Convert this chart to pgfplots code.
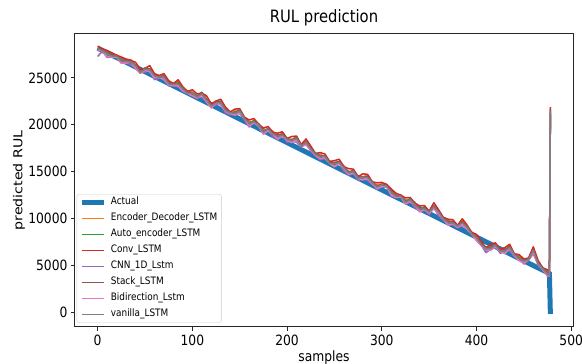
\documentclass[border=0pt]{standalone}
\usepackage{pgfplots}
\pgfplotsset{compat=1.18}
\usepackage{pgfplotstable}
\usepackage{graphicx}
\usepackage{fontspec}
\setmainfont{DejaVu Sans}

\definecolor{tabblue}{HTML}{1F77B4}
\definecolor{taborange}{HTML}{FF7F0E}
\definecolor{tabgreen}{HTML}{2CA02C}
\definecolor{tabred}{HTML}{D62728}
\definecolor{tabpurple}{HTML}{9467BD}
\definecolor{tabbrown}{HTML}{8C564B}
\definecolor{tabpink}{HTML}{E377C2}
\definecolor{tabgray}{HTML}{7F7F7F}

% sample, actual RUL, and the predictions of each model
\pgfplotstableread{
x   act   ed    ae    conv  cnn   stack bidir van
0   28200 28250 28100 28400 27300 28200 27950 28150
5   27948 27998 28048 28098 27848 27948 27898 27898
10  27695 27795 27445 27945 27195 27745 27295 27595
15  27442 27342 27442 27692 27242 27442 27242 27342
20  27190 27490 27290 27440 27240 27390 27240 27340
25  26938 26988 26938 27238 26588 26838 26588 26788
30  26685 26785 26635 27035 26635 26935 26585 26785
35  26432 26982 26782 26882 26382 26782 26682 26682
40  26180 26230 26280 26680 26130 26380 26030 26330
45  25928 25828 25728 25928 25578 25628 25478 25578
50  25675 26025 25775 26025 25625 26075 25825 25925
55  25422 25972 25972 26322 25822 25972 25672 25872
60  25170 25420 25170 25470 24820 25270 25020 25220
65  24918 25068 25218 25268 24968 25118 25068 25068
70  24665 25265 24965 25465 25015 25265 24815 25115
75  24412 24562 24462 24712 24162 24462 24262 24362
80  24160 24310 24260 24410 24160 24360 24210 24310
85  23908 24658 24508 24808 24058 24408 24158 24358
90  23655 23705 23655 24055 23605 23955 23605 23805
95  23402 23602 23452 23552 23352 23452 23352 23352
100 23150 23500 23350 23750 23100 23450 23100 23400
105 22898 23048 23098 23298 22898 22998 22848 22948
110 22645 23495 23145 23395 22895 23445 23195 23295
115 22392 22642 22742 23092 22542 22742 22442 22642
120 22140 22140 21940 22240 21890 22040 21790 21990
125 21888 22538 22488 22538 22138 22388 22338 22338
130 21635 22385 22235 22735 22235 22535 22085 22385
135 21382 21832 21632 21882 21232 21632 21432 21532
140 21130 21180 21230 21380 21080 21330 21180 21280
145 20878 21478 21378 21678 21228 21278 21028 21228
150 20625 21575 21325 21725 21175 21625 21275 21475
155 20372 20722 20722 20822 20572 20722 20622 20622
160 20120 20370 20120 20520 19770 20220 19870 20170
165 19868 20318 20468 20668 20218 20368 20218 20318
170 19615 20115 19815 20065 19865 20115 19865 19965
175 19362 19412 19312 19662 19012 19312 19012 19212
180 19110 19560 19510 19810 19410 19610 19360 19560
185 18858 19308 19158 19208 18708 19058 19008 19008
190 18605 18655 18605 19105 18555 18905 18455 18755
195 18352 19152 19002 19252 18902 19002 18802 18902
200 18100 18550 18400 18550 18150 18500 18350 18450
205 17848 18398 18448 18748 18248 18348 18098 18298
210 17595 18745 18395 18795 18145 18695 18345 18545
215 17342 17692 17792 17892 17592 17792 17692 17692
220 17090 18290 18090 18490 18040 18190 17840 18140
225 16838 17588 17538 17738 17188 17438 17288 17388
230 16585 16835 16685 16935 16685 16985 16735 16835
235 16332 16882 16682 17032 16282 16682 16382 16582
240 16080 16530 16580 16880 16430 16680 16430 16630
245 15828 16128 16028 16078 15878 15928 15878 15878
250 15575 15925 15675 16175 15525 15975 15525 15825
255 15322 16072 16072 16322 15922 16072 15872 15972
260 15070 15620 15370 15520 15020 15470 15320 15420
265 14818 14868 15018 15318 14768 14918 14668 14868
270 14565 15165 14865 15265 14915 15165 14815 15015
275 14312 14462 14362 14462 14062 14362 14262 14262
280 14060 14410 14360 14760 14260 14460 14110 14410
285 13808 14658 14508 14708 14058 14408 14258 14358
290 13555 13705 13655 13905 13605 13955 13705 13805
295 13302 13602 13452 13802 13352 13452 13152 13352
300 13050 13700 13550 13850 13300 13650 13400 13600
305 12798 13548 13598 13648 13398 13498 13448 13448
310 12545 12995 12645 13145 12395 12945 12495 12795
315 12292 12342 12442 12692 12242 12442 12242 12342
320 12040 12540 12340 12490 12290 12440 12290 12390
325 11788 11938 11888 12188 11538 11788 11538 11738
330 11535 11985 11835 12235 11835 12135 11785 11985
335 11282 11732 11532 11632 11132 11532 11432 11432
340 11030 10880 10930 11330 10780 11030 10680 10980
345 10778 11278 11178 11378 11028 11078 10928 11028
350 10525 10775 10525 10775 10375 10825 10575 10675
355 10272 11322 11322 11672 11172 11322 11022 11222
360 10020 10870 10620 10920 10270 10720 10470 10670
365 9768  9918  10068 10118 9818  9968  9918  9918
370 9515  9715  9415  9915  9465  9715  9265  9565
375 9262  9712  9612  9862  9312  9612  9412  9512
380 9010  9160  9110  9260  9010  9210  9060  9160
385 8758  9808  9658  9958  9208  9558  9308  9508
390 8505  8955  8905  9305  8855  9205  8855  9055
395 8252  8552  8402  8502  8302  8402  8302  8302
400 8000  8050  7900  8300  7650  8000  7650  7950
405 7748  7298  7348  7548  7148  7248  7098  7198
410 7495  6945  6595  6845  6345  6895  6645  6745
415 7242  6792  6892  7242  6692  6892  6592  6792
420 6990  7290  7090  7390  7040  7190  6940  7140
425 6738  6688  6638  6688  6288  6538  6488  6488
430 6485  6535  6385  6885  6385  6685  6235  6535
435 6232  7182  6982  7232  6582  6982  6782  6882
440 5980  6030  6080  6230  5930  6180  6030  6130
445 5728  5928  5828  6128  5678  5728  5478  5678
450 5475  5525  5275  5675  5125  5575  5225  5425
455 5222  5672  5672  5772  5522  5672  5572  5572
460 4970  6820  6570  6970  6220  6670  6320  6620
465 4718  5168  5318  5518  5068  5218  5068  5168
470 4465  4765  4465  4715  4515  4765  4515  4615
475 4212  4262  4162  4512  3862  4162  3862  4062
477 4100  4000  3950  4100  3800  3950  3850  3900
478 -200  21300 21200 21900 21000 21700 21100 21500
}\rul

\newcommand{\vs}[1]{\scalebox{1}[1.15]{#1}}

\begin{document}
\begin{tikzpicture}
\useasboundingbox (0,0) rectangle (582pt,364pt);
\begin{axis}[
  at={(75pt,37pt)}, anchor=south west,
  scale only axis, width=498pt, height=293pt,
  xmin=-23.9, xmax=501.9, ymin=-1600, ymax=29700,
  xtick={0,100,...,500}, ytick={0,5000,...,25000},
  scaled x ticks=false, scaled y ticks=false,
  axis line style={black!85, line width=1pt},
  tick style={black!85, line width=1pt},
  major tick length=4pt, tick align=outside, tick pos=left,
  /pgf/number format/1000 sep={},
  /pgf/number format/assume math mode=true,
  ticklabel style={font=\fontsize{12.3}{14}\selectfont},
  xticklabel={\vs{\pgfmathprintnumber{\tick}}},
  yticklabel={\vs{\pgfmathprintnumber{\tick}}},
  title={\vs{RUL prediction}},
  title style={font=\fontsize{14.8}{17}\selectfont, at={(axis description cs:0.5,1)}, anchor=base, yshift=5.7pt, inner sep=0pt},
  xlabel={\vs{samples}},
  xlabel style={font=\fontsize{12.3}{14}\selectfont, at={(axis description cs:0.5,0)}, anchor=north, yshift=-24pt, inner sep=0pt},
  ylabel={\scalebox{1.15}[1]{predicted RUL}},
  ylabel style={font=\fontsize{12.3}{14}\selectfont, at={(axis description cs:-0.1,0.5)}, anchor=south, inner sep=0pt},
  legend cell align=left,
  legend image code/.code={\draw[#1] (0pt,0pt) -- (22pt,0pt);},
  legend style={at={(axis description cs:0.0034,0.0147)}, anchor=south west,
    draw=black!20, rounded corners=2pt, fill=white, fill opacity=0.8, text opacity=1,
    font=\fontsize{8.9}{10}\selectfont, inner xsep=3pt, inner ysep=2.5pt,
    row sep=5pt, column sep=3pt,
    nodes={inner sep=1pt, text height=7pt, text depth=2pt}},
]
\addplot[tabblue, line width=5pt] table[x=x, y=act] {\rul};
\addlegendentry{\vs{Actual}}
\addplot[taborange, line width=1.5pt, line join=round] table[x=x, y=ed] {\rul};
\addlegendentry{\vs{Encoder\_Decoder\_LSTM}}
\addplot[tabgreen, line width=1.5pt, line join=round] table[x=x, y=ae] {\rul};
\addlegendentry{\vs{Auto\_encoder\_LSTM}}
\addplot[tabred, line width=1.5pt, line join=round] table[x=x, y=conv] {\rul};
\addlegendentry{\vs{Conv\_LSTM}}
\addplot[tabpurple, line width=1.5pt, line join=round] table[x=x, y=cnn] {\rul};
\addlegendentry{\vs{CNN\_1D\_Lstm}}
\addplot[tabbrown, line width=1.5pt, line join=round] table[x=x, y=stack] {\rul};
\addlegendentry{\vs{Stack\_LSTM}}
\addplot[tabpink, line width=1.5pt, line join=round] table[x=x, y=bidir] {\rul};
\addlegendentry{\vs{Bidirection\_Lstm}}
\addplot[tabgray, line width=1.5pt, line join=round] table[x=x, y=van] {\rul};
\addlegendentry{\vs{vanilla\_LSTM}}
\end{axis}
\end{tikzpicture}
\end{document}
